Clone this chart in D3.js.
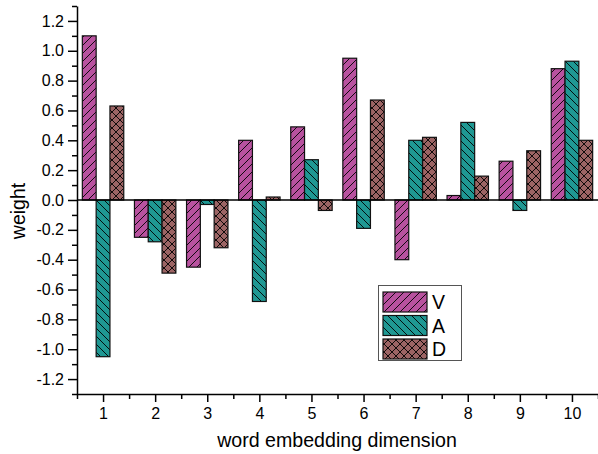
<!DOCTYPE html>
<html>
<head>
<meta charset="utf-8">
<script src="https://cdn.jsdelivr.net/npm/d3@7"></script>
<style>
  body { margin: 0; background: #fff; }
  text { font-family: "Liberation Sans", Arial, sans-serif; fill: #000; }
</style>
</head>
<body>
<svg id="chart" width="598" height="454"></svg>
<script>
// values
const dims = [1, 2, 3, 4, 5, 6, 7, 8, 9, 10]
const seriesNames = ['V', 'A', 'D']
const valuesV = [1.10, -0.25, -0.45, 0.40, 0.49, 0.95, -0.40, 0.03, 0.26, 0.88]
const valuesA = [-1.05, -0.28, -0.03, -0.68, 0.27, -0.19, 0.40, 0.52, -0.07, 0.93]
const valuesD = [0.63, -0.49, -0.32, 0.02, -0.07, 0.67, 0.42, 0.16, 0.33, 0.40]
const yTicks = [-1.2, -1.0, -0.8, -0.6, -0.4, -0.2, 0.0, 0.2, 0.4, 0.6, 0.8, 1.0, 1.2]
const yMinorTicks = [-1.3, -1.1, -0.9, -0.7, -0.5, -0.3, -0.1, 0.1, 0.3, 0.5, 0.7, 0.9, 1.1, 1.3]
const xMinorTicks = [0.5, 1.5, 2.5, 3.5, 4.5, 5.5, 6.5, 7.5, 8.5, 9.5, 10.5]

const colors = { V: '#b8529f', A: '#1f9893', D: '#9c6464' }
const seriesValues = { V: valuesV, A: valuesA, D: valuesD }

const svg = d3.select('#chart')

const margin = { left: 77, top: 6, right: 0, bottom: 60 }
const width = 598
const height = 454

const xScale = d3.scaleLinear()
  .domain([0.5, 10.5])
  .range([margin.left, width - margin.right])

const yScale = d3.scaleLinear()
  .domain([-1.3, 1.3])
  .range([height - margin.bottom, margin.top])

const barW = 0.265 // in x units

// hatch patterns
const defs = svg.append('defs')

function hatch(id, color, paths, size) {
  const p = defs.append('pattern')
    .attr('id', id)
    .attr('patternUnits', 'userSpaceOnUse')
    .attr('width', size)
    .attr('height', size)
  p.append('rect')
    .attr('width', size)
    .attr('height', size)
    .attr('fill', color)
  p.append('path')
    .attr('d', paths)
    .attr('stroke', '#000')
    .attr('stroke-width', 0.9)
    .attr('fill', 'none')
}
const fwd = s => `M0,${s} L${s},0 M-2,2 L2,-2 M${s - 2},${s + 2} L${s + 2},${s - 2}`
const back = s => `M0,0 L${s},${s} M-2,${s - 2} L2,${s + 2} M${s - 2},-2 L${s + 2},2`
hatch('pat-V', colors.V, fwd(8), 8)
hatch('pat-A', colors.A, back(8), 8)
hatch('pat-D', colors.D, fwd(8) + ' ' + back(8), 8)

// bars
const data = []
seriesNames.forEach((name, i) => {
  dims.forEach((d, j) => {
    data.push({ series: name, idx: i, dim: d, value: seriesValues[name][j] })
  })
})

svg.append('g')
  .selectAll('rect')
  .data(data)
  .enter().append('rect')
  .attr('x', d => xScale(d.dim + (d.idx - 1.5) * barW))
  .attr('width', d => xScale(barW) - xScale(0))
  .attr('y', d => yScale(Math.max(0, d.value)))
  .attr('height', d => Math.abs(yScale(d.value) - yScale(0)))
  .attr('fill', d => `url(#pat-${d.series})`)
  .attr('stroke', '#111')
  .attr('stroke-width', 1.2)

// zero line
svg.append('line')
  .attr('x1', xScale(0.5))
  .attr('x2', xScale(10.5))
  .attr('y1', yScale(0))
  .attr('y2', yScale(0))
  .attr('stroke', '#000')
  .attr('stroke-width', 1.5)

// y axis
const yAxisG = svg.append('g')
  .attr('transform', `translate(${margin.left},0)`)
  .call(d3.axisLeft(yScale)
    .tickValues(yTicks)
    .tickFormat(d => d.toFixed(1))
    .tickSize(9)
    .tickSizeOuter(0)
    .tickPadding(4))
yAxisG.append('g')
  .call(d3.axisLeft(yScale)
    .tickValues(yMinorTicks)
    .tickFormat('')
    .tickSize(5))
  .select('.domain').remove()

// x axis
const xAxisG = svg.append('g')
  .attr('transform', `translate(0,${height - margin.bottom})`)
  .call(d3.axisBottom(xScale)
    .tickValues(dims)
    .tickFormat(d3.format('d'))
    .tickSize(8)
    .tickSizeOuter(0)
    .tickPadding(6))
xAxisG.append('g')
  .call(d3.axisBottom(xScale)
    .tickValues(xMinorTicks)
    .tickFormat('')
    .tickSize(5))
  .select('.domain').remove()

svg.selectAll('.domain, .tick line')
  .attr('stroke', '#000')
  .attr('stroke-width', 1.5)
svg.selectAll('.tick text')
  .attr('font-size', 16)
  .style('font-family', '"Liberation Sans", Arial, sans-serif')

// axis titles
svg.append('text')
  .attr('transform', `translate(25,211) rotate(-90)`)
  .attr('text-anchor', 'middle')
  .attr('font-size', 19.5)
  .text('weight')

svg.append('text')
  .attr('x', 337)
  .attr('y', 447)
  .attr('text-anchor', 'middle')
  .attr('font-size', 19.6)
  .text('word embedding dimension')

// legend
const legend = svg.append('g')
legend.append('rect')
  .attr('x', 378.5)
  .attr('y', 285.5)
  .attr('width', 83)
  .attr('height', 75)
  .attr('fill', '#fff')
  .attr('stroke', '#555')
  .attr('stroke-width', 1)

seriesNames.forEach((name, i) => {
  legend.append('rect')
    .attr('x', 383)
    .attr('y', 292 + i * 23.5)
    .attr('width', 44)
    .attr('height', 20)
    .attr('fill', `url(#pat-${name})`)
    .attr('stroke', '#111')
    .attr('stroke-width', 1.2)
  legend.append('text')
    .attr('x', 432)
    .attr('y', 309 + i * 23.5)
    .attr('font-size', 19.5)
    .text(name)
})
</script>
</body>
</html>
